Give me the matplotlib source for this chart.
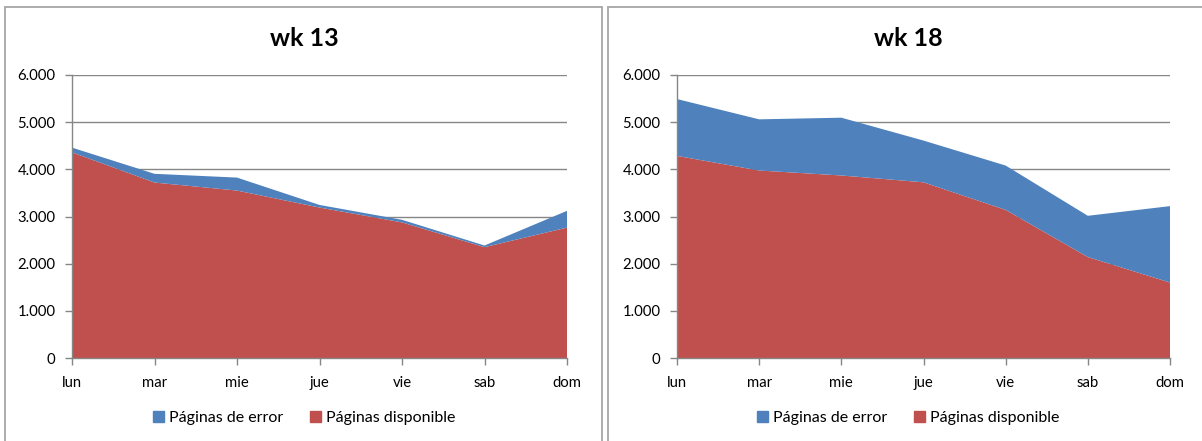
import numpy as np
import matplotlib.pyplot as plt
from matplotlib.patches import Patch, Rectangle
from matplotlib.ticker import FuncFormatter

plt.rcParams['font.family'] = ['Lato', 'DejaVu Sans']

# Datos
dias = ["lun", "mar", "mie", "jue", "vie", "sab", "dom"]
wk13_disponible = [4360, 3720, 3550, 3190, 2875, 2350, 2765]
wk13_error = [100, 185, 275, 55, 55, 35, 355]
wk18_disponible = [4285, 3975, 3870, 3725, 3140, 2140, 1600]
wk18_error = [1205, 1085, 1225, 885, 940, 875, 1620]

azul = "#4F81BD"
rojo = "#C0504D"
gris = "#868686"

W, H = 1202, 441
fig = plt.figure(figsize=(W / 100, H / 100), dpi=100)

# Marcos de cada grafico
for x0, x1 in [(5, 602), (608, 1210)]:
    fig.patches.append(Rectangle((x0 / W, -0.1), (x1 - x0) / W, 1.1 - 7 / H,
                                 transform=fig.transFigure, fill=False,
                                 edgecolor="#A6A6A6", linewidth=1.3))


def miles(v, pos):
    return f"{int(v):,}".replace(",", ".")


def grafico(px0, px1, centro, titulo, disp, err):
    ax = fig.add_axes([px0 / W, 1 - 358 / H, (px1 - px0) / W, (358 - 75) / H])
    x = np.arange(len(dias))
    ax.stackplot(x, disp, err, colors=[rojo, azul], linewidth=0)
    ax.set_xlim(0, len(dias) - 1)
    ax.set_ylim(0, 6000)
    ax.set_yticks(range(0, 6001, 1000))
    ax.yaxis.set_major_formatter(FuncFormatter(miles))
    ax.set_xticks(x)
    ax.set_xticklabels(dias)
    ax.set_axisbelow(True)
    ax.grid(axis="y", color=gris, linewidth=1)
    for s in ["top", "right"]:
        ax.spines[s].set_visible(False)
    for s in ["left", "bottom"]:
        ax.spines[s].set_color(gris)
        ax.spines[s].set_linewidth(1)
    ax.tick_params(axis="both", colors=gris, labelcolor="black", labelsize=10.7,
                   length=5, width=1)
    ax.tick_params(axis="y", pad=7)
    ax.tick_params(axis="x", pad=8)
    cx = centro / W
    fig.text(cx, 1 - 38 / H, titulo, ha="center", va="center",
             fontsize=18, fontweight="bold")
    handles = [Patch(color=azul, label="Páginas de error"),
               Patch(color=rojo, label="Páginas disponible")]
    fig.legend(handles=handles, loc="center", bbox_to_anchor=(cx, 1 - 418 / H),
               ncol=2, frameon=False, fontsize=11.5, handlelength=0.68,
               handleheight=0.7, handletextpad=0.3, columnspacing=1.7)
    return ax


grafico(72, 567, 304, "wk 13", wk13_disponible, wk13_error)
grafico(677, 1170, 908, "wk 18", wk18_disponible, wk18_error)

plt.savefig("out.png", dpi=100)
